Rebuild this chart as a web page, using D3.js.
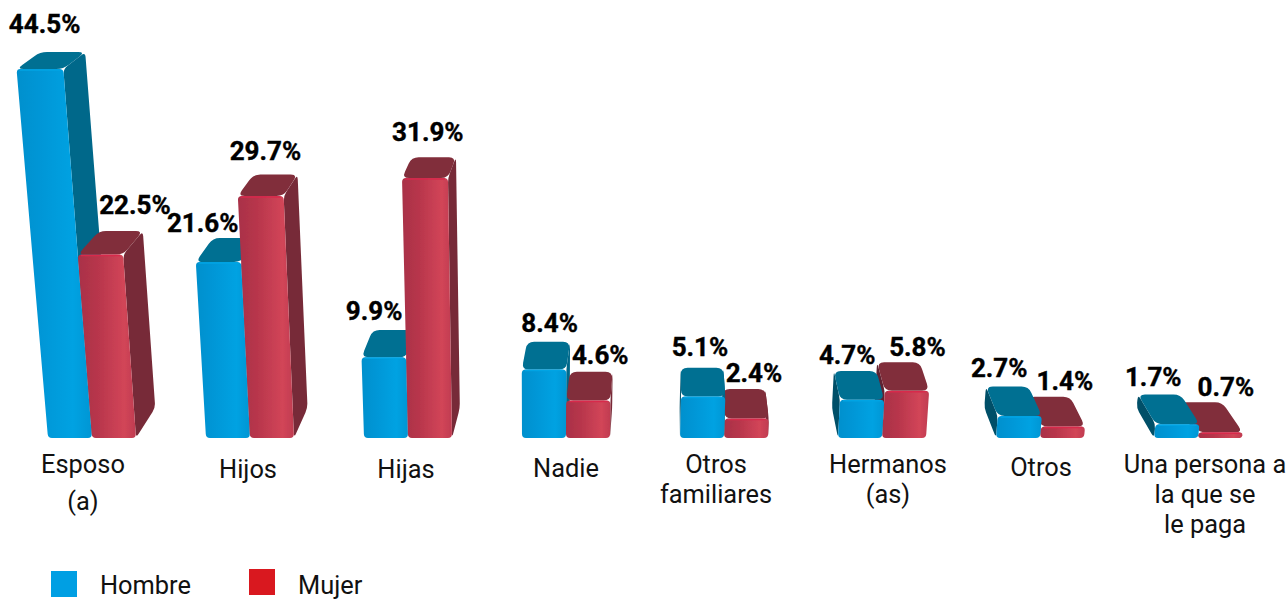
<!DOCTYPE html>
<html lang="es">
<head>
  <meta charset="utf-8" />
  <title>Hombre / Mujer</title>
  <script src="https://d3js.org/d3.v7.min.js"></script>
  <style>
    html, body { margin: 0; padding: 0; background: #fff; overflow: hidden; }
    text { font-family: Roboto, sans-serif; fill: #111; }
    .val { font-size: 26px; font-weight: 700; text-anchor: middle; fill: #000; stroke: #000; stroke-width: 0.4px; }
    .cat { font-size: 25.4px; text-anchor: middle; }
    .leg { font-size: 25.4px; }
  </style>
</head>
<body>
<svg id="chart" width="1288" height="599"></svg>

<script>
    var categories = ["Esposo (a)", "Hijos", "Hijas", "Nadie", "Otros familiares", "Hermanos (as)", "Otros", "Una persona a la que se le paga"];
    var categoryLines = [["Esposo", "(a)"], ["Hijos"], ["Hijas"], ["Nadie"], ["Otros", "familiares"], ["Hermanos", "(as)"], ["Otros"], ["Una persona a", "la que se", "le paga"]];
    var seriesNames = ["Hombre", "Mujer"];
    var hombre = [44.5, 21.6, 9.9, 8.4, 5.1, 4.7, 2.7, 1.7];
    var mujer = [22.5, 29.7, 31.9, 4.6, 2.4, 5.8, 1.4, 0.7];

    // label nudges, by hand
    var nudgeX = { Hombre: [-18, -32, -20, 1, -2, -8, -8, -6], Mujer: [14, -10, -6, 9, 10, 19, 16, 25] };
    var nudgeY = { Hombre: [19, 6, 10, 10, 12, 7, 10, 8], Mujer: [17, 14, 16, 8, 7, 6, 7, 6] };
    var catNudge = [-9, -2, -2, 0, -8, 6, 1, 7];
    var catBaseline = [473, 478, 478, 477, 473, 473, 476, 473];
    var catGap = [37, 30, 30, 30, 30, 30, 30, 30];

    var colors = {
      Hombre: { top: "#006f92", right: "#00688a", left: "#004f68", line: "#00a4e4", legend: "#009fe3" },
      Mujer: { top: "#812e3b", right: "#772c38", left: "#5e2430", line: "#d8294c", legend: "#d9181f" }
    };

    var svg = d3.select("#chart");
    var baseY = 438;
    // the tallest bar sticks out a bit more than the others, so the scale has a knee
    var y = d3.scaleLinear().domain([0, 31.9, 44.5]).range([baseY, 178, 69]);
    var x0 = d3.scaleBand().domain(categories).range([48, 48 + 158 * categories.length]);
    var x1 = d3.scaleBand().domain(seriesNames).range([0, 88]);

    // the picture is a perspective one: verticals lean, depth runs to a vanishing point
    var leanX = 541, leanD = 5780;
    var vp = [670, -400], depth = 0.036;

    function lean(x, py) { return x - (leanX - x) * (baseY - py) / leanD; }
    function back(p) { return [p[0] + depth * (vp[0] - p[0]), p[1] + depth * (vp[1] - p[1])]; }

    function roundPoly(pts, r) {
      var p = d3.path();
      pts.forEach(function(c, i) {
        var a = pts[(i + pts.length - 1) % pts.length], b = pts[(i + 1) % pts.length];
        var la = Math.hypot(a[0] - c[0], a[1] - c[1]), lb = Math.hypot(b[0] - c[0], b[1] - c[1]);
        var ra = Math.min(r, la / 2), rb = Math.min(r, lb / 2);
        var s = [c[0] + (a[0] - c[0]) * ra / la, c[1] + (a[1] - c[1]) * ra / la];
        var e = [c[0] + (b[0] - c[0]) * rb / lb, c[1] + (b[1] - c[1]) * rb / lb];
        if (i == 0) p.moveTo(s[0], s[1]); else p.lineTo(s[0], s[1]);
        p.quadraticCurveTo(c[0], c[1], e[0], e[1]);
      });
      p.closePath();
      return p.toString();
    }

    var defs = svg.append("defs");
    function frontGradient(id, stops) {
      var g = defs.append("linearGradient").attr("id", id);
      stops.forEach(function(s) { g.append("stop").attr("offset", s[0]).attr("stop-color", s[1]); });
    }
    frontGradient("front-Hombre", [[0, "#0090cd"], [0.3, "#0096d6"], [0.75, "#00a2e2"], [1, "#0096d4"]]);
    frontGradient("front-Mujer", [[0, "#a93147"], [0.35, "#b8364c"], [0.8, "#d24558"], [1, "#c03c50"]]);
    defs.append("filter").attr("id", "soft").append("feGaussianBlur").attr("stdDeviation", 0.5);

    function drawBar(name, value, cat) {
      var xl = x0(cat) + x1(name), xr = xl + x1.bandwidth();
      var py = y(value);
      var c = colors[name];
      var ftl = [lean(xl, py), py], ftr = [lean(xr, py), py];
      var fbl = [xl, baseY], fbr = [xr, baseY];
      var g = svg.append("g").attr("class", "bar").attr("filter", "url(#soft)");

      if (xr < vp[0] + 110) {
        g.append("path").attr("d", roundPoly([ftr, back(ftr), back(fbr), fbr], 5)).attr("fill", c.right);
      }
      if (xl > vp[0]) {
        g.append("path").attr("d", roundPoly([ftl, back(ftl), back(fbl), fbl], 5)).attr("fill", c.left);
      }
      g.append("path").attr("d", roundPoly([ftl, ftr, back(ftr), back(ftl)], 7)).attr("fill", c.top);
      g.append("path").attr("d", roundPoly([ftl, ftr, fbr, fbl], 4)).attr("fill", "url(#front-" + name + ")");
      g.append("path")
        .attr("d", "M" + (ftl[0] + 3) + "," + (py + 1) + "L" + (ftr[0] - 3) + "," + (py + 1))
        .attr("stroke", c.line).attr("stroke-width", 1.5).attr("fill", "none");
    }

    categories.forEach(function(cat, i) {
      // which bar hides the other flips once past the vanishing point
      var order = x0(cat) + 44 > vp[0] ? ["Mujer", "Hombre"] : ["Hombre", "Mujer"];
      order.forEach(function(name) {
        drawBar(name, name == "Hombre" ? hombre[i] : mujer[i], cat);
      });
    });

    var fmt = d3.format(".1f");
    seriesNames.forEach(function(name) {
      var vals = name == "Hombre" ? hombre : mujer;
      svg.append("g").selectAll("text").data(vals).join("text")
        .attr("class", "val")
        .attr("x", function(d, i) {
          var xc = x0(categories[i]) + x1(name) + x1.bandwidth() / 2;
          var topX = lean(xc, y(d));
          return back([topX, y(d)])[0] + nudgeX[name][i];
        })
        .attr("y", function(d, i) { return back([0, y(d)])[1] - nudgeY[name][i]; })
        .text(function(d) { return fmt(d) + "%"; });
    });

    var catG = svg.append("g").selectAll("text").data(categories).join("text")
      .attr("class", "cat")
      .attr("x", function(d, i) { return x0(d) + 44 + catNudge[i]; })
      .attr("y", function(d, i) { return catBaseline[i]; });
    catG.selectAll("tspan").data(function(d, i) {
      return categoryLines[i].map(function(t, j) {
        return { t: t, x: x0(d) + 44 + catNudge[i], dy: j ? catGap[i] : 0 };
      });
    }).join("tspan")
      .attr("x", function(d) { return d.x; })
      .attr("dy", function(d) { return d.dy; })
      .text(function(d) { return d.t; });

    // legend
    var legend = svg.append("g").selectAll("g").data(seriesNames).join("g")
      .attr("transform", function(d, i) { return "translate(" + (51 + i * 198) + "," + (571 - i * 2) + ")"; });
    legend.append("rect").attr("width", 26).attr("height", 26)
      .attr("fill", function(d) { return colors[d].legend; });
    legend.append("text").attr("class", "leg").attr("x", 49).attr("y", function(d, i) { return 23 + i * 2; })
      .text(function(d) { return d; });
</script>

</body>
</html>
